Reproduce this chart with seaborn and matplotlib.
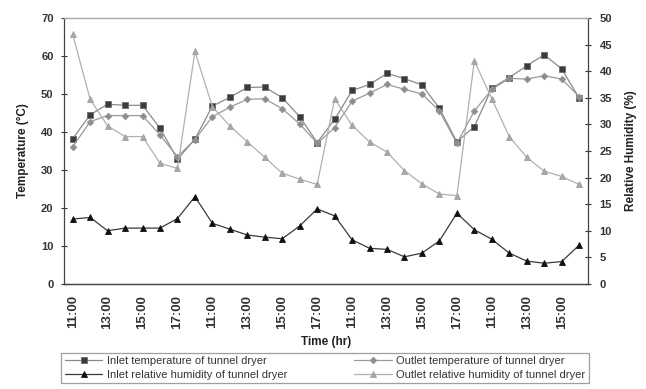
import numpy as np
import pandas as pd
import matplotlib
matplotlib.use("Agg")
import matplotlib.pyplot as plt
import seaborn as sns

# Hourly readings over the drying run (11:00-18:00 each day)
hours = [11, 12, 13, 14, 15, 16, 17, 18] * 3 + [11, 12, 13, 14, 15, 16]
time_labels = [f"{h}:00" for h in hours]

inlet_temp = [38.2, 44.5, 47.3, 47.0, 47.0, 41.0, 32.8, 38.1, 46.8, 49.1,
              51.7, 51.8, 49.0, 44.0, 37.2, 43.3, 50.9, 52.5, 55.4, 54.0,
              52.4, 46.2, 37.4, 41.4, 51.5, 54.3, 57.4, 60.3, 56.6, 48.9]
outlet_temp = [36.1, 42.7, 44.3, 44.3, 44.3, 39.2, 33.5, 38.0, 44.0, 46.5,
               48.6, 48.7, 46.1, 42.1, 37.0, 41.1, 48.1, 50.2, 52.5, 51.2,
               50.0, 45.5, 37.0, 45.5, 51.2, 54.1, 53.9, 54.8, 53.9, 49.3]
inlet_rh = [12.2, 12.5, 10.0, 10.5, 10.5, 10.5, 12.3, 16.4, 11.4, 10.3,
            9.2, 8.8, 8.5, 10.9, 14.1, 12.8, 8.3, 6.7, 6.5, 5.1,
            5.8, 8.1, 13.3, 10.2, 8.4, 5.8, 4.3, 3.9, 4.2, 7.3]
outlet_rh = [46.9, 34.7, 29.7, 27.7, 27.7, 22.7, 21.7, 43.7, 33.3, 29.7,
             26.7, 23.8, 20.8, 19.7, 18.7, 34.8, 29.8, 26.7, 24.8, 21.3,
             18.8, 16.9, 16.6, 41.9, 34.8, 27.7, 23.8, 21.2, 20.2, 18.7]

df = pd.DataFrame({
    "step": np.arange(len(hours)),
    "inlet_temp": inlet_temp,
    "outlet_temp": outlet_temp,
    "inlet_rh": inlet_rh,
    "outlet_rh": outlet_rh,
})

sns.set_style("white")
plt.rcParams["font.family"] = ["Liberation Sans", "DejaVu Sans"]
plt.rcParams["axes.unicode_minus"] = False

fig = plt.figure(figsize=(6.46, 3.89), dpi=100)
ax = fig.add_axes([0.099, 0.270, 0.811, 0.684])
ax2 = ax.twinx()

line_kw = dict(linewidth=0.9, markersize=4.5, markeredgewidth=0.6)

sns.lineplot(data=df, x="step", y="inlet_temp", ax=ax, color="#8a8a8a",
             marker="s", markerfacecolor="#3c3c3c", markeredgecolor="#6a6a6a",
             label="Inlet temperature of tunnel dryer", legend=False, **line_kw)
sns.lineplot(data=df, x="step", y="outlet_temp", ax=ax, color="#9a9a9a",
             marker="D", markerfacecolor="#8c8c8c", markeredgecolor="#9a9a9a",
             label="Outlet temperature of tunnel dryer", legend=False,
             linewidth=0.9, markersize=3.4, markeredgewidth=0.6)
sns.lineplot(data=df, x="step", y="inlet_rh", ax=ax2, color="#3a3a3a",
             marker="^", markerfacecolor="#111111", markeredgecolor="#111111",
             label="Inlet relative humidity of tunnel dryer", legend=False, **line_kw)
sns.lineplot(data=df, x="step", y="outlet_rh", ax=ax2, color="#b0b0b0",
             marker="^", markerfacecolor="#a8a8a8", markeredgecolor="#a0a0a0",
             label="Outlet relative humidity of tunnel dryer", legend=False, **line_kw)

n = len(hours)
for a in (ax, ax2):
    a.set_xlim(-0.5, n - 0.5)

ax.set_ylim(0, 70)
ax.set_yticks(np.arange(0, 71, 10))
ax2.set_ylim(0, 50)
ax2.set_yticks(np.arange(0, 51, 5))

# labels at every second hour, tick marks between categories
ax.set_xticks(np.arange(0, n, 2))
ax.set_xticklabels(time_labels[::2], rotation=90)
ax.set_xticks(np.arange(-0.5, n, 1), minor=True)
ax.tick_params(axis="x", which="major", length=0, pad=8, labelsize=9.5, labelcolor="#333333")
ax.tick_params(axis="x", which="minor", length=5, direction="inout", width=0.8, color="#333333")

tick_font = dict(labelsize=8, labelcolor="#333333")
ax.tick_params(axis="y", length=5, direction="inout", width=0.8, color="#333333", pad=5, **tick_font)
ax2.tick_params(axis="y", length=5, direction="inout", width=0.8, color="#333333", pad=6, **tick_font)

for lab in ax.get_xticklabels() + ax.get_yticklabels() + ax2.get_yticklabels():
    lab.set_fontweight("bold")

ax.set_xlabel("Time (hr)", fontsize=8.5, fontweight="bold", color="#222222", labelpad=5)
ax.set_ylabel("Temperature (°C)", fontsize=8.5, fontweight="bold", color="#222222", labelpad=9)
ax2.set_ylabel("Relative Humidity (%)", fontsize=8.5, fontweight="bold", color="#222222", labelpad=9)

for a in (ax, ax2):
    for side in ("left", "right", "bottom"):
        a.spines[side].set_color("#444444")
        a.spines[side].set_linewidth(0.9)
    a.spines["top"].set_color("#aaaaaa")
    a.spines["top"].set_linewidth(0.9)
ax.spines["right"].set_visible(False)
ax2.spines["left"].set_visible(False)

h1, l1 = ax.get_legend_handles_labels()
h2, l2 = ax2.get_legend_handles_labels()
handles = [h1[0], h2[0], h1[1], h2[1]]
labels = [l1[0], l2[0], l1[1], l2[1]]
leg = fig.legend(handles, labels, loc="center", bbox_to_anchor=(0.503, 0.054),
                 ncol=2, fontsize=8, frameon=True, fancybox=False,
                 edgecolor="#888888", borderpad=0.3, labelspacing=0.35,
                 handlelength=3.4, handletextpad=0.4, columnspacing=6.0)
leg.get_frame().set_linewidth(0.9)
for t in leg.get_texts():
    t.set_color("#333333")

fig.savefig("out.png", dpi=100)
